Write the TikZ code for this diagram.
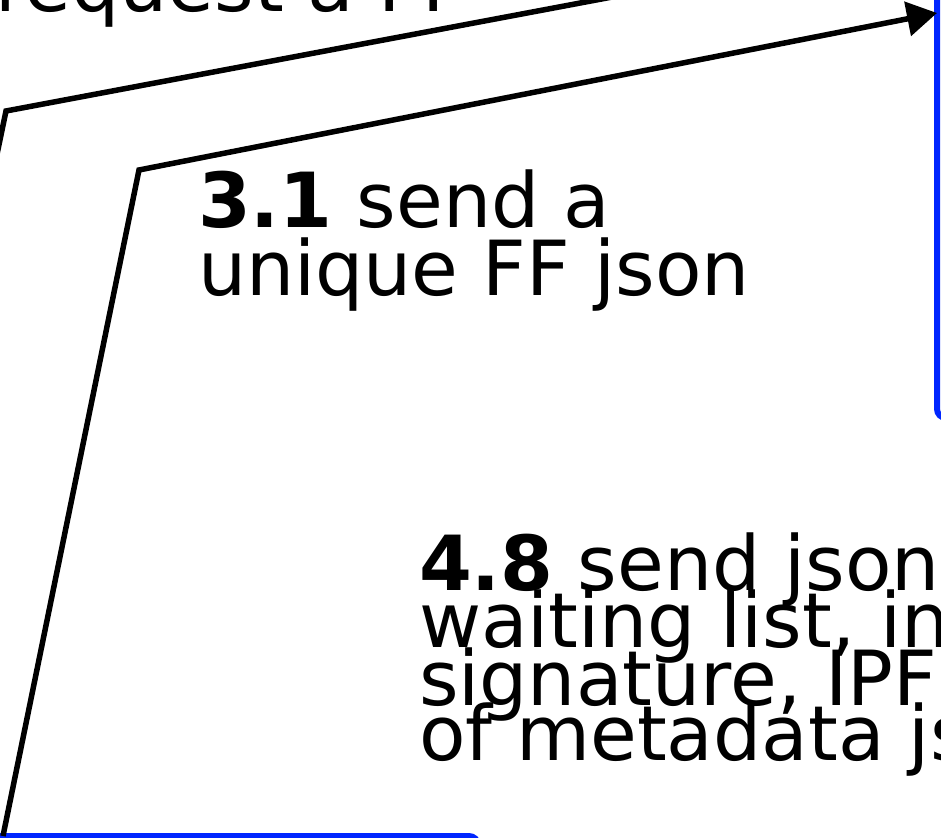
\documentclass[tikz,border=0pt]{standalone}
\usepackage{fontspec}
\setmainfont{DejaVu Sans}
\usetikzlibrary{arrows.meta}
\definecolor{boxblue}{RGB}{0,38,255}
\begin{document}
\begin{tikzpicture}[x=1pt,y=-1pt,
  lbl/.style={anchor=base west, inner sep=0pt, outer sep=0pt, font=\fontsize{76}{76}\selectfont},
  conn/.style={line width=5.5pt, draw=black},
  bluebox/.style={draw=boxblue, line width=6pt, rounded corners=9pt, fill=none, outer sep=0pt}]
\useasboundingbox (0,0) rectangle (941,837);
\begin{scope}
\clip (0,0) rectangle (941,837);
% boxes (mostly outside the crop)
\node[bluebox, anchor=south west, minimum width=400pt, minimum height=700pt] (rightbox) at (937,418) {};
\node[bluebox, anchor=north east, minimum width=700pt, minimum height=300pt] (lowbox) at (478,836) {};
% outer connector (both ends outside the crop)
\coordinate (o1) at (-25,260);
\coordinate (o2) at (6,111);
\coordinate (o3) at (660,-12);
\draw[conn] (o1) -- (o2) -- (o3);
% inner arrow 3.1
\coordinate (s1) at (3,0);
\coordinate (b1) at (139,170);
\coordinate (e1) at (0,13);
\draw[conn, -{Triangle[length=30pt,width=34pt]}] (s1 |- lowbox.north) -- (b1) -- (rightbox.west |- e1);
% labels
\node[lbl] (t0) at (-5,12) {request a FF};
\node[lbl] (t31a) at (198,227) {\textbf{3.1} send a};
\node[lbl] (t31b) at (198,295) {unique FF json};
\node[lbl] (t48a) at (419,590) {\textbf{4.8} send json};
\node[lbl] (t48b) at (419,647) {waiting list, in};
\node[lbl] (t48c) at (419,705) {signature, IPFS};
\node[lbl] (t48d) at (419,760) {of metadata js};
\end{scope}
\end{tikzpicture}
\end{document}
